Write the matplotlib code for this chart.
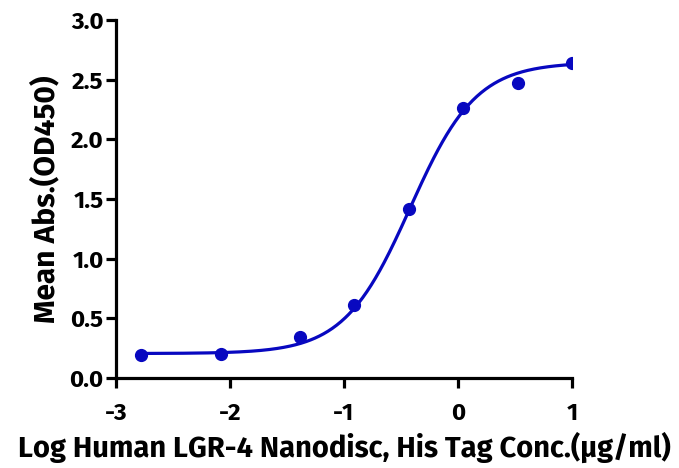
import numpy as np
import matplotlib
matplotlib.use("Agg")
import matplotlib.pyplot as plt

plt.rcParams['font.family'] = ['Fira Sans', 'DejaVu Sans']
plt.rcParams['font.weight'] = 'bold'

log_conc = [-2.78, -2.08, -1.385, -0.908, -0.431, 0.048, 0.522, 1.0]
mean_abs = [0.19, 0.205, 0.34, 0.615, 1.415, 2.265, 2.475, 2.64]

# 4PL fit parameters
bottom = 0.205
top = 2.645
log_ec50 = -0.42
hill = 1.5

xticks = [-3, -2, -1, 0, 1]
yticks = [0.0, 0.5, 1.0, 1.5, 2.0, 2.5, 3.0]
color = '#0808c0'

fig = plt.figure(figsize=(6.79, 4.68), dpi=100)
ax = fig.add_axes([116/679, 90/468, 456/679, 358/468])

xs = np.linspace(min(log_conc), max(log_conc), 400)
ys = bottom + (top - bottom) / (1 + 10 ** ((log_ec50 - xs) * hill))
ax.plot(xs, ys, color=color, lw=2.3, zorder=2)
ax.plot(log_conc, mean_abs, 'o', color=color, ms=8.5, zorder=3)

ax.set_xlim(-3, 1)
ax.set_ylim(0, 3)
ax.set_xticks(xticks)
ax.set_xticklabels([str(t) for t in xticks])
ax.set_yticks(yticks)
ax.set_yticklabels([f"{t:.1f}" for t in yticks])
for s in ['top', 'right']:
    ax.spines[s].set_visible(False)
for s in ['left', 'bottom']:
    ax.spines[s].set_linewidth(2.3)
ax.tick_params(width=2.3, length=7, labelsize=17.5)
ax.tick_params(axis='x', pad=10)
ax.tick_params(axis='y', pad=2)
ax.set_ylabel('Mean Abs.(OD450)', fontsize=21.5, fontweight='bold', labelpad=6)
ax.set_xlabel('Log Human LGR-4 Nanodisc, His Tag Conc.(µg/ml)', fontsize=21,
              fontweight='bold', labelpad=5)
for lab in ax.get_xticklabels() + ax.get_yticklabels():
    lab.set_fontweight('bold')

fig.savefig('out.png', dpi=100)
